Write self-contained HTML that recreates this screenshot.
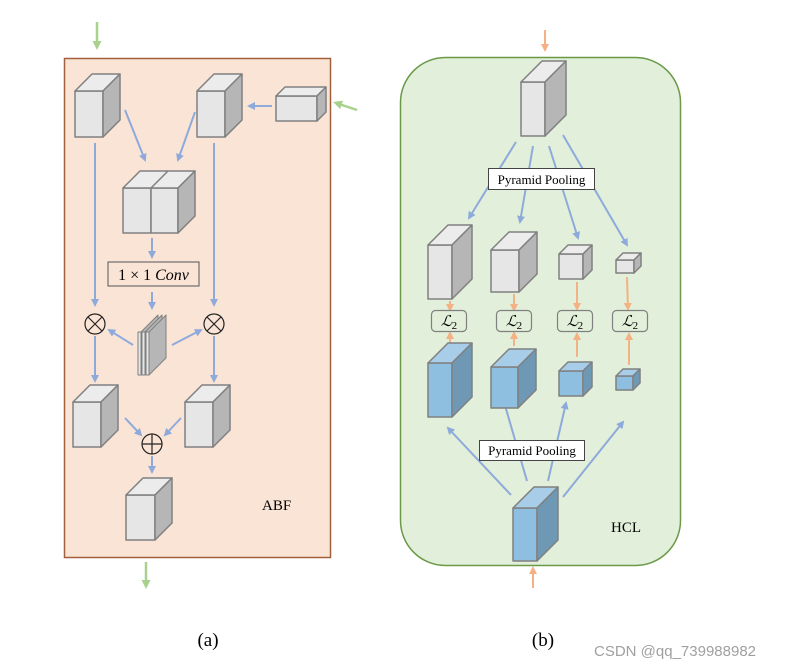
<!DOCTYPE html>
<html><head><meta charset="utf-8"><style>body{margin:0;background:#fff}svg{display:block}</style></head><body>
<svg width="801" height="667" xmlns="http://www.w3.org/2000/svg" font-family="Liberation Serif, serif">
<defs>
<marker id="b" markerWidth="8" markerHeight="8" refX="6" refY="4" orient="auto" markerUnits="userSpaceOnUse"><path d="M0,0 L8,4 L0,8 z" fill="#8eaadb"/></marker>
<marker id="g" markerWidth="9" markerHeight="9" refX="6" refY="4.5" orient="auto" markerUnits="userSpaceOnUse"><path d="M0,0 L9,4.5 L0,9 z" fill="#a9d18e"/></marker>
<marker id="o" markerWidth="8" markerHeight="8" refX="6" refY="4" orient="auto" markerUnits="userSpaceOnUse"><path d="M0,0 L8,4 L0,8 z" fill="#f4b183"/></marker>
</defs>
<!-- left panel -->
<rect x="64.5" y="58.5" width="266" height="499" fill="#fae4d6" stroke="#a0603a" stroke-width="1.5"/>
<g stroke="#a9d18e" stroke-width="2.5" fill="none">
<line x1="97" y1="22" x2="97" y2="47" marker-end="url(#g)"/>
<line x1="146" y1="562" x2="146" y2="586" marker-end="url(#g)"/>
<line x1="357" y1="110" x2="336" y2="103" marker-end="url(#g)"/>
</g>
<g stroke="#808080" stroke-width="1.5" stroke-linejoin="round">
<g><rect x="75" y="91" width="28" height="46" fill="#e6e6e6"/><polygon points="75,91 92,74 120,74 103,91" fill="#ececec"/><polygon points="103,91 120,74 120,120 103,137" fill="#b6b6b6"/></g>
<g><rect x="197" y="91" width="28" height="46" fill="#e6e6e6"/><polygon points="197,91 214,74 242,74 225,91" fill="#ececec"/><polygon points="225,91 242,74 242,120 225,137" fill="#b6b6b6"/></g>
<g><rect x="276" y="96" width="41" height="25" fill="#e6e6e6"/><polygon points="276,96 285,87 326,87 317,96" fill="#ececec"/><polygon points="317,96 326,87 326,112 317,121" fill="#b6b6b6"/></g>
<g><rect x="123" y="188" width="28" height="45" fill="#e6e6e6"/><rect x="151" y="188" width="27" height="45" fill="#e6e6e6"/><polygon points="123,188 140,171 195,171 178,188" fill="#ececec"/><line x1="151" y1="188" x2="168" y2="171"/><polygon points="178,188 195,171 195,216 178,233" fill="#b6b6b6"/></g>
<g><rect x="73" y="402" width="28" height="45" fill="#e6e6e6"/><polygon points="73,402 90,385 118,385 101,402" fill="#ececec"/><polygon points="101,402 118,385 118,430 101,447" fill="#b6b6b6"/></g>
<g><rect x="185" y="402" width="28" height="45" fill="#e6e6e6"/><polygon points="185,402 202,385 230,385 213,402" fill="#ececec"/><polygon points="213,402 230,385 230,430 213,447" fill="#b6b6b6"/></g>
<g><rect x="126" y="495" width="29" height="45" fill="#e6e6e6"/><polygon points="126,495 143,478 172,478 155,495" fill="#ececec"/><polygon points="155,495 172,478 172,523 155,540" fill="#b6b6b6"/></g>
<g stroke-width="1"><rect x="138" y="332" width="3" height="43" fill="#e6e6e6"/><polygon points="141,332 158,315 158,358 141,375" fill="#b6b6b6"/>
<rect x="142" y="332" width="3" height="43" fill="#e6e6e6"/><polygon points="145,332 162,315 162,358 145,375" fill="#b6b6b6"/>
<rect x="146" y="332" width="3" height="43" fill="#e6e6e6"/><polygon points="149,332 166,315 166,358 149,375" fill="#b6b6b6"/></g>
</g>
<g stroke="#8eaadb" stroke-width="2" fill="none">
<line x1="125" y1="110" x2="145" y2="160" marker-end="url(#b)"/>
<line x1="195" y1="112" x2="178" y2="160" marker-end="url(#b)"/>
<line x1="272" y1="106" x2="249" y2="106" marker-end="url(#b)"/>
<line x1="95" y1="143" x2="95" y2="305" marker-end="url(#b)"/>
<line x1="214" y1="143" x2="214" y2="305" marker-end="url(#b)"/>
<line x1="152" y1="238" x2="152" y2="257" marker-end="url(#b)"/>
<line x1="152" y1="292" x2="152" y2="308" marker-end="url(#b)"/>
<line x1="133" y1="345" x2="109" y2="330" marker-end="url(#b)"/>
<line x1="172" y1="345" x2="201" y2="330" marker-end="url(#b)"/>
<line x1="95" y1="336" x2="95" y2="381" marker-end="url(#b)"/>
<line x1="214" y1="336" x2="214" y2="381" marker-end="url(#b)"/>
<line x1="125" y1="418" x2="141" y2="435" marker-end="url(#b)"/>
<line x1="181" y1="418" x2="165" y2="435" marker-end="url(#b)"/>
<line x1="152" y1="456" x2="152" y2="472" marker-end="url(#b)"/>
</g>
<rect x="108" y="262" width="91" height="24" fill="#fae4d6" stroke="#555" stroke-width="1"/>
<text x="153.5" y="280" text-anchor="middle" font-size="16">1 × 1 <tspan font-style="italic">Conv</tspan></text>
<g stroke="#222" stroke-width="1.2" fill="#fae4d6">
<circle cx="95" cy="324" r="10"/><path d="M88,317 L102,331 M102,317 L88,331"/>
<circle cx="214" cy="324" r="10"/><path d="M207,317 L221,331 M221,317 L207,331"/>
<circle cx="152" cy="444" r="10"/><path d="M142,444 L162,444 M152,434 L152,454"/>
</g>
<text x="262" y="510" font-size="15">ABF</text>
<!-- right panel -->
<rect x="400.5" y="57.5" width="280" height="508" rx="45" fill="#e2efda" stroke="#6a9a48" stroke-width="1.5"/>
<g stroke="#f4b183" stroke-width="2" fill="none">
<line x1="545" y1="30" x2="545" y2="50" marker-end="url(#o)"/>
<line x1="533" y1="588" x2="533" y2="568" marker-end="url(#o)"/>
<line x1="450" y1="301" x2="450" y2="310" marker-end="url(#o)"/>
<line x1="450" y1="343" x2="450" y2="333" marker-end="url(#o)"/>
<line x1="514" y1="294" x2="514" y2="310" marker-end="url(#o)"/>
<line x1="514" y1="346" x2="514" y2="333" marker-end="url(#o)"/>
<line x1="577" y1="282" x2="577" y2="309" marker-end="url(#o)"/>
<line x1="577" y1="357" x2="577" y2="334" marker-end="url(#o)"/>
<line x1="627" y1="277" x2="628" y2="309" marker-end="url(#o)"/>
<line x1="629" y1="365" x2="629" y2="334" marker-end="url(#o)"/>
</g>
<g stroke="#8eaadb" stroke-width="2" fill="none">
<line x1="516" y1="142" x2="469" y2="218" marker-end="url(#b)"/>
<line x1="533" y1="146" x2="520" y2="222" marker-end="url(#b)"/>
<line x1="549" y1="146" x2="578" y2="238" marker-end="url(#b)"/>
<line x1="563" y1="135" x2="627" y2="245" marker-end="url(#b)"/>
<line x1="511" y1="495" x2="448" y2="428" marker-end="url(#b)"/>
<line x1="527" y1="481" x2="504" y2="402" marker-end="url(#b)"/>
<line x1="548" y1="481" x2="566" y2="403" marker-end="url(#b)"/>
<line x1="563" y1="497" x2="623" y2="422" marker-end="url(#b)"/>
</g>
<g stroke="#808080" stroke-width="1.5" stroke-linejoin="round">
<g><rect x="521" y="82" width="24" height="54" fill="#e6e6e6"/><polygon points="521,82 542,61 566,61 545,82" fill="#ececec"/><polygon points="545,82 566,61 566,115 545,136" fill="#b6b6b6"/></g>
<g><rect x="428" y="245" width="24" height="54" fill="#e6e6e6"/><polygon points="428,245 448,225 472,225 452,245" fill="#ececec"/><polygon points="452,245 472,225 472,279 452,299" fill="#b6b6b6"/></g>
<g><rect x="491" y="250" width="28" height="42" fill="#e6e6e6"/><polygon points="491,250 509,232 537,232 519,250" fill="#ececec"/><polygon points="519,250 537,232 537,274 519,292" fill="#b6b6b6"/></g>
<g><rect x="559" y="254" width="24" height="25" fill="#e6e6e6"/><polygon points="559,254 568,245 592,245 583,254" fill="#ececec"/><polygon points="583,254 592,245 592,270 583,279" fill="#b6b6b6"/></g>
<g><rect x="616" y="260" width="18" height="13" fill="#e6e6e6"/><polygon points="616,260 623,253 641,253 634,260" fill="#ececec"/><polygon points="634,260 641,253 641,266 634,273" fill="#b6b6b6"/></g>
<g><rect x="428" y="363" width="24" height="54" fill="#8fbfe0"/><polygon points="428,363 448,343 472,343 452,363" fill="#a8cde8"/><polygon points="452,363 472,343 472,397 452,417" fill="#6f98b5"/></g>
<g><rect x="491" y="367" width="27" height="41" fill="#8fbfe0"/><polygon points="491,367 509,349 536,349 518,367" fill="#a8cde8"/><polygon points="518,367 536,349 536,390 518,408" fill="#6f98b5"/></g>
<g><rect x="559" y="371" width="24" height="25" fill="#8fbfe0"/><polygon points="559,371 568,362 592,362 583,371" fill="#a8cde8"/><polygon points="583,371 592,362 592,387 583,396" fill="#6f98b5"/></g>
<g><rect x="616" y="376" width="17" height="14" fill="#8fbfe0"/><polygon points="616,376 623,369 640,369 633,376" fill="#a8cde8"/><polygon points="633,376 640,369 640,383 633,390" fill="#6f98b5"/></g>
<g><rect x="513" y="508" width="24" height="53" fill="#8fbfe0"/><polygon points="513,508 534,487 558,487 537,508" fill="#a8cde8"/><polygon points="537,508 558,487 558,540 537,561" fill="#6f98b5"/></g>
</g>
<g fill="#fff" stroke="#444" stroke-width="1">
<rect x="488.5" y="168.5" width="106" height="21"/>
<rect x="479.5" y="440.5" width="105" height="20"/>
</g>
<text x="541.5" y="184" text-anchor="middle" font-size="13">Pyramid Pooling</text>
<text x="532" y="455" text-anchor="middle" font-size="13">Pyramid Pooling</text>
<g fill="#e2efda" stroke="#808080" stroke-width="1.2">
<rect x="431.5" y="310.5" width="35" height="21" rx="4"/>
<rect x="496.5" y="310.5" width="35" height="21" rx="4"/>
<rect x="557.5" y="310.5" width="35" height="21" rx="4"/>
<rect x="612.5" y="310.5" width="35" height="21" rx="4"/>
</g>
<g font-size="15" font-style="italic" text-anchor="middle">
<text x="449" y="326">ℒ<tspan font-size="11" font-style="normal" dy="3">2</tspan></text>
<text x="514" y="326">ℒ<tspan font-size="11" font-style="normal" dy="3">2</tspan></text>
<text x="575" y="326">ℒ<tspan font-size="11" font-style="normal" dy="3">2</tspan></text>
<text x="630" y="326">ℒ<tspan font-size="11" font-style="normal" dy="3">2</tspan></text>
</g>
<text x="611" y="532" font-size="15">HCL</text>
<text x="208" y="646" text-anchor="middle" font-size="19">(a)</text>
<text x="543" y="646" text-anchor="middle" font-size="19">(b)</text>
<text x="594" y="656" font-family="Liberation Sans, sans-serif" font-size="15" fill="#a0a0a0">CSDN @qq_739988982</text>
</svg>
</body></html>
